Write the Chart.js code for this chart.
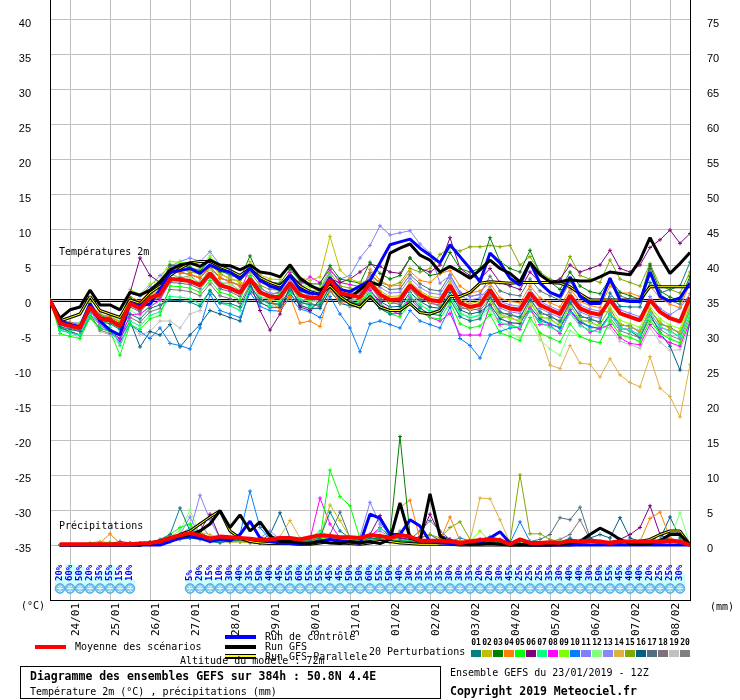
<!DOCTYPE html>
<html>
<head>
<meta charset="utf-8">
<title>Diagramme des ensembles GEFS</title>
<script src="https://cdn.jsdelivr.net/npm/chart.js@4.4.1/dist/chart.umd.min.js"></script>
<style>
  html, body { margin: 0; padding: 0; background: #fff; }
  canvas { display: block; }
</style>
</head>
<body>
<canvas id="gefs" width="740" height="700"></canvas>
<script>
// --- time axis: 65 steps of 6h from 23/01 12Z (index 0) to +384h (index 64) ---
const dayTickIdx = [2, 6, 10, 14, 18, 22, 26, 30, 34, 38, 42, 46, 50, 54, 58, 62];
const dateLabels = ['24/01', '25/01', '26/01', '27/01', '28/01', '29/01', '30/01', '31/01',
                    '01/02', '02/02', '03/02', '04/02', '05/02', '06/02', '07/02', '08/02'];
const tempTicks = [-35, -30, -25, -20, -15, -10, -5, 0, 5, 10, 15, 20, 25, 30, 35, 40];
const precipTicks = [0, 5, 10, 15, 20, 25, 30, 35, 40, 45, 50, 55, 60, 65, 70, 75];

// --- temperatures 2m (°C) ---
const tempMean = [0, -3.3, -3.7, -4.0, -1.0, -2.6, -2.9, -3.7, -0.5, -1.2, 0.3, 0.8, 3.0, 2.9, 2.7, 2.1, 3.8, 2.1, 1.7, 1.0, 3.0, 1.1, 0.5, 0.4, 2.4, 0.7, 0.3, 0.3, 2.9, 1.0, 0.7, 0.4, 2.4, 0.8, 0.0, 0.1, 2.1, 0.8, 0.0, -0.2, 2.1, -0.4, -1.0, -0.7, 1.4, -0.7, -1.2, -1.4, 1.0, -0.7, -1.4, -2.0, 0.6, -1.2, -1.8, -2.1, 0.0, -1.9, -2.4, -2.9, 0.0, -1.7, -2.6, -3.1, 0.4];
const tempGfs = [0, -2.6, -1.4, -1.0, 1.4, -0.7, -0.7, -1.4, 1.1, 0.7, 1.4, 2.6, 4.3, 5.0, 5.3, 4.8, 5.7, 5.0, 4.9, 4.3, 5.0, 4.0, 3.8, 3.3, 5.0, 3.1, 2.1, 1.4, 2.4, 1.0, 0.3, 1.5, 2.6, 2.1, 6.7, 7.4, 8.0, 6.4, 5.7, 4.0, 4.8, 4.0, 3.1, 4.3, 5.7, 4.5, 3.8, 2.6, 5.4, 3.6, 2.6, 2.6, 2.9, 2.7, 2.7, 3.3, 4.0, 3.8, 3.6, 5.7, 8.9, 6.2, 3.8, 5.2, 6.8];
const tempCtrl = [0, -3.0, -3.5, -3.8, -0.5, -3.0, -4.3, -5.0, -0.5, -0.7, -0.6, 1.5, 4.0, 4.2, 4.5, 3.8, 5.0, 4.3, 4.0, 3.0, 4.5, 2.8, 2.0, 1.5, 3.5, 1.5, 1.0, 0.8, 3.2, 1.5, 1.2, 2.0, 2.8, 5.3, 7.9, 8.3, 8.7, 7.4, 6.4, 5.3, 7.9, 6.2, 4.5, 2.6, 6.7, 5.3, 3.1, 2.1, 5.4, 2.4, 1.1, 0.5, 3.3, 0.5, -0.5, -0.5, 3.1, 0.0, -0.2, -0.2, 4.0, 0.5, -0.2, 0.3, 2.4];
const tempPara = [0, -3.0, -2.5, -2.0, 0.5, -1.5, -2.0, -2.5, 0.0, -0.5, 1.0, 2.0, 3.5, 4.5, 5.3, 5.5, 5.5, 4.8, 4.2, 3.5, 4.5, 3.2, 2.5, 2.0, 3.5, 2.0, 1.2, 0.8, 2.0, 0.5, -0.5, -1.0, 0.5, -1.0, -1.5, -1.5, -0.5, -1.8, -2.0, -1.5, 0.5, 0.5, 1.1, 2.4, 2.6, 2.5, 2.4, 2.5, 2.5, 2.5, 2.5, 2.4, 1.9, 0.9, 0.0, 0.0, 0.0, 0.0, 0.0, 0.0, 1.9, 1.9, 1.9, 1.9, 1.9];

const tempP01 = [0, -3.8, -4.2, -4.5, -1.5, -3.1, -3.4, -4.2, -2.0, -2.7, -1.2, -0.7, 0.0, -0.1, -0.3, -0.9, 1.3, -0.4, -0.5, -1.0, 2.0, 0.1, -0.5, -0.6, 1.4, -0.3, -0.7, -0.7, 1.9, 0.0, -0.3, -0.6, 0.4, -1.2, -2.0, -1.9, 0.1, -1.2, -2.0, -2.2, 0.1, -2.4, -3.0, -2.7, 0.4, -1.7, -2.2, -2.4, 0.0, -1.7, -2.4, -3.0, -0.4, -2.2, -2.8, -3.1, 1.0, -0.9, -1.0, -1.0, 2.5, 1.0, 1.5, 2.0, 5.4];
const tempP02 = [0, -3.1, -3.9, -4.2, -0.8, -2.4, -3.1, -3.5, 0.0, -0.7, 0.8, 1.3, 4.5, 4.4, 4.2, 3.6, 5.3, 3.6, 3.2, 2.5, 5.5, 3.6, 3.0, 2.9, 5.0, 3.2, 2.8, 3.3, 9.1, 4.3, 3.0, 2.5, 2.9, 1.3, 0.5, 0.6, 2.6, 1.3, 0.5, 0.3, 2.6, 0.1, -0.5, -0.2, 1.6, -0.5, -1.4, -1.2, 1.2, -0.9, -1.2, -2.2, 0.8, -1.0, -2.0, -1.9, -1.5, -3.4, -3.9, -4.4, -1.5, -3.2, -4.1, -4.6, -1.1];
const tempP03 = [0, -3.0, -3.4, -3.7, -0.7, -2.3, -2.6, -3.4, 0.3, -0.4, 1.1, 1.8, 5.0, 4.9, 4.7, 4.1, 5.8, 4.1, 3.7, 3.0, 6.3, 3.1, 2.5, 2.4, 4.4, 2.7, 2.3, 2.3, 4.9, 3.0, 2.7, 2.4, 5.4, 3.8, 3.0, 3.5, 6.0, 4.5, 3.5, 3.8, 6.8, 4.5, 4.0, 4.5, 8.9, 5.5, 4.5, 4.0, 7.1, 3.8, 2.6, 1.5, 4.0, 2.0, 1.2, 0.9, 3.0, 1.1, 0.6, 0.1, 5.0, 1.3, 0.4, -0.1, 3.4];
const tempP04 = [0, -2.8, -3.2, -3.5, -0.5, -2.1, -2.4, -3.2, 0.5, -0.2, 1.3, 1.8, 4.0, 3.9, 3.7, 3.1, 4.8, 3.1, 2.7, 2.0, 3.0, 1.1, 0.0, -1.5, 0.5, -3.3, -3.0, -3.8, 1.5, -0.5, -0.3, -0.6, 4.4, 2.8, 2.0, 2.1, 4.1, 2.8, 2.5, 3.8, 4.2, 2.0, 1.0, 1.3, 2.4, 0.3, -0.2, -0.4, 2.0, 0.3, -0.4, -1.0, 1.6, -0.2, -0.8, -1.1, 2.0, 1.0, 1.0, 0.5, 2.0, 0.3, -0.6, -1.1, 2.4];
const tempP05 = [0, -4.8, -5.2, -5.5, -2.5, -4.1, -4.4, -7.9, -3.5, -4.2, -2.7, -2.2, 2.0, 1.9, 1.7, 1.1, 2.8, 1.1, 0.7, 0.0, 3.4, 1.5, 0.2, 0.9, 2.0, 1.2, 0.0, 0.6, 3.3, 0.6, 1.1, 0.0, 0.4, -1.2, -2.0, -2.4, -0.4, -1.7, -2.5, -2.7, -0.4, -3.4, -4.0, -3.7, -2.1, -4.7, -5.2, -5.8, -2.5, -4.7, -5.4, -6.0, -3.4, -5.2, -5.8, -6.1, -3.0, -4.9, -5.4, -5.9, -3.0, -4.7, -5.6, -6.1, -2.6];
const tempP06 = [0, -3.5, -3.5, -4.2, -0.8, -2.8, -3.1, -3.5, 1.0, 6.0, 3.5, 2.5, 4.0, 3.9, 3.7, 3.1, 4.8, 3.1, 2.7, 2.0, 2.5, -1.5, -4.3, -2.0, 2.0, -1.0, -1.5, 0.0, 3.0, 2.5, 3.0, 4.0, 5.1, 4.8, 4.0, 3.8, 6.0, 4.5, 4.0, 5.0, 8.9, 4.5, 3.5, 3.0, 4.5, 2.5, 2.0, 1.5, 4.0, 2.5, 2.5, 3.0, 5.0, 4.0, 4.5, 5.0, 7.1, 4.5, 4.0, 5.0, 7.5, 8.6, 10.0, 8.1, 9.5];
const tempP07 = [0, -4.3, -4.7, -5.0, -2.0, -3.6, -3.9, -6.5, -3.0, -3.7, -2.2, -1.7, 0.5, 0.4, 0.2, -0.6, 1.3, -0.4, -0.8, -1.5, 1.6, 0.4, -0.9, -0.3, 1.0, 0.1, -1.1, -0.4, 1.5, 0.4, -0.6, -0.2, 0.9, -0.7, -1.5, -1.4, 0.6, -0.7, -1.5, -1.7, 0.6, -1.9, -2.5, -2.2, -1.1, -3.2, -3.7, -3.9, -1.5, -3.2, -3.9, -4.5, -1.9, -3.7, -4.3, -4.6, -2.0, -3.9, -4.4, -4.9, -2.0, -3.7, -4.6, -5.1, -1.6];
const tempP08 = [0, -3.5, -4.0, -4.5, -1.5, -3.5, -4.5, -5.7, -2.1, -2.0, -1.0, 0.0, 2.6, 3.2, 2.4, 2.4, 3.5, 2.4, 1.4, 1.3, 4.5, 2.6, 2.0, 1.9, 3.9, 2.2, 3.3, 2.5, 4.4, 2.5, 2.2, 1.9, 1.4, -0.5, -1.5, -2.0, 0.5, -1.0, -2.5, -3.0, -1.9, -5.0, -5.0, -5.0, -0.8, -3.5, -3.4, -4.2, -1.2, -3.5, -3.6, -4.8, -1.6, -3.4, -4.6, -4.1, -3.5, -5.4, -6.2, -6.4, -3.5, -5.2, -6.1, -6.6, -3.1];
const tempP09 = [0, -2.6, -3.4, -3.3, -0.3, -2.3, -2.2, -3.0, 1.5, 0.8, 2.3, 2.8, 5.5, 5.4, 5.2, 4.6, 6.3, 4.6, 4.2, 3.5, 4.5, 2.6, 2.0, 1.9, 3.9, 2.2, 1.8, 1.8, 4.4, 2.5, 2.2, 1.9, 2.7, 1.1, -0.3, 0.4, 2.4, 0.5, 0.3, -0.5, 2.4, -0.1, -1.3, -0.4, -0.1, -2.2, -2.7, -2.9, -0.5, -2.2, -2.9, -3.5, -0.9, -2.7, -3.3, -3.6, -1.0, -2.9, -3.4, -3.9, -1.0, -2.7, -3.6, -4.1, -0.6];
const tempP10 = [0, -4.3, -4.7, -5.0, -2.0, -3.6, -4.5, -6.0, -3.5, -4.5, -5.5, -4.0, -6.2, -6.5, -7.0, -4.0, 0.8, -1.5, -2.0, -2.5, 1.0, -0.9, -1.5, -1.6, 0.4, -1.3, -1.7, -2.5, 0.5, -2.0, -4.0, -7.4, -3.4, -3.0, -3.5, -4.0, -1.5, -3.0, -3.5, -4.0, -1.0, -5.5, -6.5, -8.3, -5.0, -4.5, -4.0, -3.9, -1.5, -3.0, -3.4, -4.0, -1.4, -3.0, -3.8, -4.1, -2.0, -3.4, -3.9, -4.4, -1.5, -3.2, -4.1, -4.6, -1.6];
const tempP11 = [0, -3.0, -3.2, -3.3, -0.5, -2.0, -2.5, -3.0, 1.0, 0.5, 2.0, 3.5, 4.8, 5.5, 6.0, 5.5, 6.9, 5.0, 4.5, 3.5, 4.8, 2.9, 1.7, 2.3, 3.6, 2.5, 2.1, 1.5, 4.1, 3.0, 3.5, 6.0, 7.8, 10.6, 9.3, 9.6, 9.9, 8.0, 6.7, 2.4, 3.5, 1.0, 0.5, 0.8, 0.9, -1.2, -1.7, -1.9, 0.5, -1.2, -1.9, -2.5, 0.1, -1.7, -2.3, -2.6, 0.5, -1.4, -1.9, -2.4, 0.5, -1.2, -2.1, -1.2, 0.9];
const tempP12 = [0, -3.6, -4.4, -4.3, -1.7, -3.3, -3.2, -4.4, -1.5, -2.2, -0.7, -0.2, 3.5, 3.4, 3.2, 2.6, 4.3, 2.6, 2.2, 1.5, 2.5, 0.6, 0.0, -0.1, 1.9, 0.2, -0.2, -0.2, 2.4, 0.5, 0.2, -0.1, 1.2, -1.0, -1.2, -1.7, 0.9, -0.4, -1.8, -1.4, 0.3, -2.2, -2.2, -2.5, -1.6, -3.7, -4.7, -5.4, -3.0, -5.7, -7.0, -7.9, -4.4, -5.2, -5.8, -6.1, -2.7, -5.2, -5.1, -6.2, -2.7, -5.0, -5.3, -6.4, -2.3];
const tempP13 = [0, -3.3, -3.5, -3.8, -0.8, -2.6, -2.7, -3.5, -0.3, -1.0, 0.5, 1.0, 4.7, 5.2, 4.4, 4.4, 5.5, 4.4, 3.4, 3.3, 3.5, 1.6, 1.0, 0.9, 2.9, 1.2, 0.8, 0.8, 3.4, 1.5, 1.2, 0.9, 3.4, 1.8, 1.0, 1.1, 3.1, 1.8, 1.0, 0.8, 3.1, 0.6, 0.0, 0.3, 1.9, -0.2, -0.7, -0.9, 1.5, -0.2, -0.9, -1.5, 1.1, -0.7, -1.3, -1.6, -1.7, -4.2, -4.1, -5.2, -1.7, -4.0, -4.3, -5.4, -1.3];
const tempP14 = [0, -3.0, -3.5, -3.8, -0.5, -2.3, -2.7, -3.5, -0.3, -1.0, 0.5, 1.5, 3.7, 4.2, 3.4, 3.4, 4.5, 3.4, 2.4, 2.3, 2.7, 1.4, 0.2, 0.7, 2.1, 1.0, 0.0, 0.6, 2.6, 1.3, 0.4, 0.7, 2.1, 1.1, -0.3, 0.4, 1.8, 1.1, -0.3, 0.1, 1.8, -0.1, -1.3, -0.4, 0.5, -2.0, -2.5, -3.0, -1.0, -5.0, -9.3, -9.8, -6.5, -9.0, -9.2, -11.0, -8.4, -10.7, -11.8, -12.4, -8.1, -12.6, -13.8, -16.7, -9.2];
const tempP15 = [0, -3.0, -3.4, -3.8, -0.8, -2.4, -2.7, -3.5, -0.2, -0.9, 0.6, 1.1, 4.2, 4.7, 3.9, 3.9, 5.0, 3.9, 2.9, 2.8, 4.0, 2.1, 1.5, 1.4, 3.4, 1.7, 1.3, 1.3, 3.9, 2.0, 1.7, 1.4, 3.5, 2.5, 2.0, 2.5, 4.5, 4.0, 4.5, 6.5, 7.5, 7.0, 7.6, 7.6, 7.8, 7.6, 7.8, 5.0, 6.2, 4.0, 3.0, 2.5, 6.2, 3.5, 3.0, 2.5, 5.7, 3.0, 2.5, 2.0, 5.2, 2.0, 1.5, 1.0, 4.0];
const tempP16 = [0, -4.0, -4.5, -5.0, -2.5, -4.0, -4.5, -5.5, -3.0, -6.7, -4.5, -5.0, -3.5, -6.7, -5.0, -3.5, -1.5, -2.0, -2.5, -3.0, 1.5, -0.4, -1.0, -1.1, 0.9, -0.8, -1.2, -1.2, 1.4, -0.5, -0.8, -1.1, 1.4, -0.2, -1.0, -0.9, 1.1, -0.2, -1.0, -1.2, 1.1, -1.4, -2.0, -1.7, -0.6, -2.7, -3.2, -3.4, -1.0, -2.7, -3.4, -4.0, -1.4, -3.2, -3.8, -4.1, -2.0, -3.9, -4.4, -5.4, -2.0, -4.7, -6.6, -10.0, -3.0];
const tempP17 = [0, -3.5, -4.0, -4.3, -1.3, -2.9, -3.2, -4.0, -1.0, -1.7, -0.2, 0.3, 2.5, 2.4, 2.2, 1.6, 3.3, 1.6, 1.2, 0.5, 3.2, 1.9, 0.7, 1.2, 2.6, 1.5, 0.5, 1.1, 3.1, 1.8, 0.9, 1.2, 3.9, 2.3, 1.5, 1.6, 3.6, 2.3, 1.5, 1.3, 3.6, 1.1, 0.5, 0.8, 3.4, 1.3, 0.8, 0.6, 3.0, 1.3, 0.6, 0.0, 2.6, 0.8, 0.2, -0.1, 2.5, 0.6, 0.1, -0.4, 4.5, 0.8, -0.1, -0.6, 2.9];
const tempP18 = [0, -3.8, -4.5, -5.0, -2.0, -4.3, -4.8, -5.0, -2.5, -3.2, -1.7, -1.2, 1.5, 1.4, 1.2, 0.6, 2.3, 0.6, 0.2, -0.5, 2.3, -0.2, -0.2, -0.9, 1.7, -0.6, -0.4, -1.0, 2.2, -0.3, 0.0, -0.9, 1.9, 0.3, -0.5, -0.4, 1.6, 0.3, -0.5, -0.7, 1.6, -0.9, -1.5, -1.2, 0.7, -2.0, -1.9, -2.7, 0.3, -2.0, -2.1, -3.3, -0.1, -2.5, -2.5, -3.4, -1.2, -3.7, -3.6, -4.7, -1.2, -3.5, -3.8, -4.9, -0.8];
const tempP19 = [0, -4.0, -4.5, -5.5, -2.5, -4.5, -5.0, -6.5, -3.5, -5.0, -4.5, -3.0, -3.0, -4.0, -2.0, -1.5, 1.5, -0.5, -0.8, -1.5, 1.2, -0.1, -1.3, -0.8, 0.6, -0.5, -1.5, -0.9, 1.1, -0.2, -1.1, -0.8, 0.6, -0.4, -1.8, -1.1, 0.3, -0.4, -1.8, -1.4, 0.3, -1.6, -2.8, -1.9, -0.9, -2.4, -3.5, -3.1, -1.3, -2.4, -3.7, -3.7, -1.7, -2.9, -4.1, -3.8, -4.0, -5.9, -6.4, -6.9, -4.0, -6.0, -7.2, -7.1, -3.6];
const tempP20 = [0, -3.6, -4.0, -4.3, -1.3, -3.0, -3.3, -4.0, -0.8, -1.5, 0.0, 0.5, 3.8, 3.1, 3.5, 2.3, 4.6, 2.3, 2.5, 1.2, 2.8, 0.3, 0.3, -0.4, 2.2, -0.1, 0.1, -0.5, 2.7, 0.2, 0.5, -0.4, 2.2, 0.0, -0.2, -0.7, 1.9, 0.0, -0.2, -1.0, 1.9, -1.2, -1.2, -1.5, 0.2, -2.5, -2.4, -3.2, -0.2, -2.5, -2.6, -3.8, -0.6, -3.0, -3.0, -3.9, -2.5, -4.4, -4.9, -5.4, -2.5, -4.2, -5.1, -5.6, -2.1];

// --- précipitations (mm / 6h), first step has no accumulation ---
const precMean = [null, 0.1, 0.1, 0.1, 0.1, 0.1, 0.1, 0.1, 0.1, 0.2, 0.3, 0.5, 1.0, 1.4, 1.7, 1.4, 0.9, 1.2, 1.1, 1.0, 0.9, 0.7, 0.8, 1.0, 1.0, 0.8, 1.1, 1.4, 1.3, 1.1, 1.1, 1.0, 1.4, 1.3, 1.0, 1.4, 1.2, 0.6, 0.6, 0.6, 0.5, 0.3, 0.5, 0.7, 0.8, 0.7, 0.1, 0.8, 0.3, 0.3, 0.4, 0.3, 0.6, 0.5, 0.6, 0.5, 0.3, 0.5, 0.5, 0.5, 0.5, 0.5, 0.6, 0.5, 0.0];
const precGfs = [null, 0, 0, 0, 0, 0, 0, 0, 0, 0, 0.2, 0.5, 1.0, 1.2, 1.5, 2.0, 3.0, 4.9, 2.5, 4.3, 2.0, 3.3, 1.3, 0.5, 0.5, 0.3, 0.2, 0.5, 0.3, 0.2, 0.5, 0.3, 0.5, 0.2, 0.8, 6.0, 1.0, 0.5, 7.3, 1.3, 0.4, 0.2, 0.1, 0.1, 0.2, 0.1, 0, 0, 0, 0, 0, 0.1, 0.3, 0.5, 1.5, 2.4, 1.7, 0.8, 0.2, 0.1, 0.2, 0.6, 1.5, 1.5, 0];
const precCtrl = [null, 0, 0, 0, 0, 0, 0, 0, 0, 0, 0, 0, 0.5, 1.0, 1.2, 1.0, 0.5, 0.8, 0.6, 1.5, 3.4, 1.0, 0.5, 0.3, 0.2, 0.1, 0.3, 0.5, 0.8, 0.6, 0.4, 0.2, 4.4, 3.8, 1.5, 1.5, 3.6, 2.7, 0.5, 0.3, 0.2, 0.1, 0.1, 0.2, 1.0, 1.9, 0.3, 0.1, 0, 0, 0, 0, 0, 0, 0, 0, 0, 0, 0, 0, 0, 0, 0, 0, 0];
const precPara = [null, 0, 0, 0, 0, 0, 0, 0, 0, 0, 0.3, 0.5, 0.8, 1.5, 2.0, 3.0, 4.0, 4.9, 2.0, 1.0, 0.5, 0.3, 0.2, 0.2, 0.2, 0.1, 0.1, 0.3, 0.5, 0.3, 0.2, 0.1, 0.3, 0.5, 0.5, 0.3, 0.2, 0.1, 0.1, 0.1, 0.1, 0, 0, 0, 0, 0, 0, 0, 0, 0, 0, 0, 0, 0.1, 0.2, 0.3, 0.2, 0.1, 0.3, 0.5, 0.8, 1.5, 2.0, 2.0, 0];

const precP01 = [null, 0, 0, 0, 0, 0, 0, 0, 0, 0.2, 0.4, 0.8, 1.5, 5.3, 2.0, 1.0, 0.5, 0.3, 0.6, 0.8, 0.4, 0.3, 0.5, 0.8, 1.0, 0.5, 0.6, 1.0, 4.7, 2.0, 1.0, 0.5, 1.0, 0.8, 0.5, 0.6, 0.5, 0.3, 0.2, 0.2, 0.2, 0.1, 0.1, 0.2, 0.3, 0.2, 0, 0.1, 0, 0, 0.1, 0.3, 0.2, 0.1, 0.2, 0.1, 0.2, 0.3, 0.1, 0.2, 0.3, 1.5, 0.5, 0.3, 0];
const precP02 = [null, 0, 0, 0, 0, 0, 0, 0, 0, 0, 0.2, 0.5, 0.8, 1.2, 2.0, 1.5, 0.8, 0.6, 0.4, 0.5, 0.3, 0.2, 0.4, 0.3, 0.5, 0.3, 0.5, 1.0, 5.7, 3.5, 1.0, 0.6, 0.8, 0.5, 0.3, 0.5, 0.4, 0.2, 0.2, 0.1, 0.1, 0.1, 0.2, 0.1, 0.1, 0.2, 0, 0.1, 0.1, 0, 0, 0.1, 0.2, 0.1, 0.1, 0.2, 0.1, 0.2, 0.3, 0.2, 0.5, 0.6, 0.8, 0.4, 0];
const precP03 = [null, 0, 0, 0, 0, 0, 0, 0, 0, 0, 0.1, 0.4, 0.8, 1.0, 1.5, 1.2, 0.8, 0.5, 0.5, 0.6, 0.5, 0.4, 0.4, 0.5, 0.6, 0.4, 0.4, 0.8, 0.6, 0.5, 0.6, 0.5, 0.8, 1.0, 1.5, 15.5, 1.4, 0.5, 0.3, 0.4, 0.3, 0.1, 0.2, 0.8, 0.5, 0.3, 0.1, 0.2, 0.2, 0.1, 0.2, 0.3, 0.8, 0.5, 0.4, 0.3, 0.2, 0.2, 0.3, 0.3, 0.4, 0.5, 0.6, 0.3, 0];
const precP04 = [null, 0, 0, 0, 0, 0.3, 1.6, 0.2, 0.1, 0.1, 0.2, 0.3, 0.6, 1.0, 1.5, 1.2, 0.8, 0.6, 0.5, 0.5, 0.4, 0.3, 0.3, 0.4, 0.5, 0.6, 0.5, 0.8, 0.6, 0.5, 0.6, 0.4, 1.5, 1.0, 1.5, 5.4, 6.4, 0.8, 0.5, 0.6, 4.0, 0.6, 0.4, 0.2, 0.3, 0.1, 0, 0.2, 0.2, 0.2, 0.1, 0.2, 0.3, 0.2, 0.3, 0.4, 0.5, 0.3, 0.5, 0.5, 3.8, 4.7, 1.0, 0.5, 0];
const precP05 = [null, 0, 0, 0.1, 0.3, 0.5, 0.3, 0.2, 0.2, 0.2, 0.3, 0.5, 1.5, 2.5, 3.0, 1.8, 1.0, 0.6, 0.5, 0.6, 0.5, 0.5, 0.6, 0.8, 0.8, 0.5, 0.6, 0.8, 10.7, 6.9, 5.6, 0.9, 0.7, 1.2, 0.8, 0.6, 0.5, 0.3, 0.2, 0.4, 0.3, 0.2, 0.2, 0.3, 0.5, 0.4, 0.1, 0.2, 0.2, 0.1, 0.3, 0.5, 0.6, 0.4, 0.5, 0.3, 0.2, 0.3, 0.5, 0.4, 0.3, 0.5, 0.8, 0.6, 0];
const precP06 = [null, 0, 0, 0, 0, 0.1, 0.2, 0.5, 0.3, 0.2, 0.4, 0.6, 0.8, 1.2, 1.5, 2.0, 4.4, 1.0, 0.8, 0.6, 0.5, 0.5, 0.4, 0.5, 0.6, 0.4, 0.5, 0.6, 0.8, 0.5, 0.5, 0.4, 1.5, 4.2, 1.5, 1.0, 0.8, 1.2, 4.4, 1.5, 0.8, 0.5, 0.3, 0.2, 0.4, 0.2, 0, 0.1, 0.1, 0.2, 0.1, 0.2, 0.3, 0.5, 0.6, 0.4, 0.5, 0.8, 1.5, 2.5, 5.6, 1.5, 0.8, 0.6, 0];
const precP07 = [null, 0, 0, 0, 0, 0, 0, 0.1, 0.1, 0.1, 0.2, 0.5, 1.0, 1.5, 2.5, 1.5, 0.8, 0.6, 0.6, 0.5, 0.4, 0.3, 0.5, 0.6, 0.8, 0.6, 1.0, 2.0, 1.2, 0.8, 0.6, 0.5, 1.0, 2.4, 1.5, 0.8, 0.6, 0.5, 0.3, 0.2, 0.2, 0.2, 0.1, 0.3, 0.4, 0.3, 0.1, 0.2, 0.2, 0.1, 0.2, 0.3, 0.5, 0.4, 0.3, 0.2, 0.3, 0.5, 0.4, 0.3, 0.5, 0.6, 0.4, 0.3, 0];
const precP08 = [null, 0, 0, 0, 0, 0, 0, 0, 0, 0.1, 0.2, 0.4, 0.8, 1.2, 1.5, 1.5, 0.8, 1.0, 0.8, 0.6, 0.6, 0.5, 0.5, 0.6, 0.8, 0.6, 0.8, 6.7, 3.0, 1.0, 0.6, 0.8, 1.2, 2.5, 1.2, 1.0, 0.6, 0.4, 0.3, 0.3, 0.3, 0.4, 0.2, 0.2, 0.3, 0.2, 0.1, 0.2, 0.1, 0.1, 0.2, 0.3, 0.4, 0.5, 0.3, 0.2, 0.3, 0.4, 0.3, 0.2, 0.3, 0.4, 0.5, 0.3, 0];
const precP09 = [null, 0, 0, 0, 0, 0.2, 0.4, 0.2, 0.2, 0.3, 0.4, 0.6, 1.0, 1.2, 1.3, 1.5, 0.8, 0.6, 0.8, 0.6, 0.5, 0.6, 0.6, 0.8, 0.5, 0.6, 0.8, 1.0, 0.8, 0.6, 0.8, 0.6, 1.0, 1.5, 1.0, 0.8, 0.6, 0.6, 0.5, 0.5, 0.4, 0.6, 0.5, 2.0, 0.6, 0.4, 0.1, 0.3, 0.3, 0.3, 0.4, 0.4, 0.6, 0.5, 0.6, 0.4, 0.4, 0.5, 0.4, 0.5, 0.6, 0.6, 0.8, 0.5, 0];
const precP10 = [null, 0, 0, 0, 0, 0, 0, 0, 0, 0, 0.1, 0.3, 0.5, 0.8, 1.0, 1.2, 0.6, 0.5, 0.8, 1.5, 7.7, 2.5, 0.8, 0.6, 0.5, 0.4, 0.6, 0.8, 1.0, 0.6, 0.5, 0.5, 0.6, 0.8, 0.5, 0.6, 0.5, 0.4, 0.4, 0.5, 0.5, 1.0, 0.6, 0.8, 1.2, 0.8, 0.3, 3.3, 0.5, 0.3, 0.5, 0.4, 1.0, 0.4, 0.6, 0.3, 0.2, 0.2, 0.3, 0.4, 0.3, 0.2, 0.4, 0.3, 0];
const precP11 = [null, 0, 0, 0, 0, 0, 0, 0, 0, 0.1, 0.3, 0.5, 0.8, 1.2, 2.0, 7.1, 3.6, 1.0, 0.8, 0.6, 0.5, 0.5, 0.5, 0.6, 0.8, 0.5, 0.5, 0.8, 1.0, 0.6, 0.8, 1.2, 6.1, 3.0, 1.5, 1.0, 0.8, 0.5, 0.3, 0.3, 0.3, 0.2, 0.2, 0.3, 0.4, 0.3, 0.1, 0.2, 0.2, 0.2, 0.3, 0.2, 0.4, 0.3, 0.5, 0.3, 0.3, 0.4, 0.5, 0.6, 0.5, 0.6, 1.0, 0.5, 0];
const precP12 = [null, 0, 0, 0, 0, 0, 0.1, 0.1, 0.1, 0.2, 0.4, 0.6, 1.2, 2.0, 5.0, 1.5, 0.8, 0.6, 0.5, 0.6, 0.5, 0.4, 0.4, 0.5, 0.6, 0.5, 0.6, 0.8, 1.0, 0.6, 0.5, 0.6, 0.8, 1.0, 0.8, 0.6, 0.5, 0.4, 0.4, 0.3, 0.3, 0.3, 0.2, 0.4, 0.5, 0.4, 0.1, 0.3, 0.4, 0.3, 0.4, 0.5, 0.6, 0.4, 0.5, 0.4, 0.5, 0.6, 0.5, 0.4, 0.5, 0.6, 0.8, 4.6, 0];
const precP13 = [null, 0, 0, 0, 0, 0, 0, 0, 0, 0.1, 0.2, 0.5, 1.0, 1.5, 4.0, 1.2, 0.8, 0.6, 0.5, 0.5, 0.6, 1.0, 2.0, 0.8, 0.6, 0.5, 0.6, 0.8, 0.8, 0.6, 0.6, 0.8, 1.5, 2.0, 1.2, 0.8, 0.6, 0.5, 0.4, 0.3, 0.3, 0.2, 0.3, 0.4, 0.5, 0.3, 0.1, 0.2, 0.3, 0.2, 0.3, 0.2, 0.4, 0.6, 0.3, 0.2, 0.3, 0.4, 0.3, 0.5, 0.6, 0.5, 0.7, 0.4, 0];
const precP14 = [null, 0, 0, 0, 0, 0, 0, 0, 0, 0.1, 0.2, 0.4, 0.8, 1.2, 1.5, 1.8, 1.5, 1.0, 0.8, 0.8, 0.6, 0.6, 0.6, 1.2, 3.5, 1.0, 0.8, 0.8, 0.6, 0.5, 0.6, 0.5, 0.8, 1.0, 0.8, 1.0, 0.8, 0.6, 0.5, 0.5, 0.4, 0.5, 0.6, 6.7, 6.6, 3.6, 0.3, 0.5, 0.5, 0.4, 0.5, 0.4, 0.6, 0.4, 0.5, 0.4, 0.3, 0.5, 0.5, 0.4, 0.5, 0.4, 0.6, 0.5, 0];
const precP15 = [null, 0, 0, 0, 0, 0, 0, 0, 0, 0.1, 0.2, 0.4, 0.8, 1.0, 1.2, 1.0, 0.8, 0.6, 0.5, 0.5, 0.5, 0.4, 0.5, 0.6, 0.5, 0.4, 0.5, 0.6, 0.5, 0.4, 0.5, 0.5, 0.6, 0.8, 0.6, 0.8, 0.6, 1.0, 1.5, 1.0, 2.5, 3.3, 0.8, 0.5, 0.6, 0.4, 0.5, 10.0, 1.6, 1.6, 0.8, 0.5, 0.5, 0.4, 0.3, 0.3, 0.3, 0.4, 0.3, 0.3, 0.4, 0.3, 0.5, 0.3, 0];
const precP16 = [null, 0, 0, 0, 0, 0, 0, 0, 0, 0.1, 0.2, 0.4, 0.8, 1.2, 1.0, 0.8, 0.6, 0.5, 0.6, 0.5, 0.5, 0.6, 1.5, 4.6, 1.0, 0.5, 0.6, 0.8, 0.8, 0.6, 0.5, 0.5, 0.6, 0.8, 0.6, 0.5, 0.6, 1.0, 1.5, 0.6, 0.4, 0.3, 0.3, 0.4, 0.5, 0.3, 0.1, 0.2, 0.2, 0.2, 0.3, 0.3, 0.4, 0.6, 1.0, 1.5, 1.0, 3.9, 1.0, 0.5, 0.4, 0.8, 4.0, 1.0, 0];
const precP17 = [null, 0, 0, 0, 0, 0, 0, 0, 0, 0.1, 0.3, 0.5, 1.0, 1.5, 1.2, 1.0, 0.8, 0.6, 0.5, 0.6, 0.5, 0.5, 0.6, 0.8, 0.6, 0.5, 0.6, 0.8, 1.5, 4.7, 1.0, 0.6, 0.8, 1.0, 0.8, 0.6, 0.8, 2.0, 3.5, 2.0, 0.8, 0.5, 0.5, 0.6, 0.5, 0.4, 0.1, 0.3, 0.5, 0.8, 1.5, 3.9, 3.6, 5.4, 1.0, 0.5, 0.5, 0.4, 0.5, 0.6, 0.5, 0.4, 0.6, 0.5, 0];
const precP18 = [null, 0, 0, 0, 0, 0, 0, 0, 0, 0.1, 0.2, 0.4, 0.6, 1.0, 1.5, 1.2, 0.8, 0.6, 0.5, 0.5, 0.4, 0.4, 0.5, 0.6, 0.5, 0.4, 0.5, 0.6, 0.6, 0.5, 0.5, 0.4, 0.6, 0.8, 0.6, 0.5, 0.5, 0.4, 0.4, 0.4, 0.3, 0.3, 0.3, 0.4, 0.4, 0.3, 0.1, 0.2, 0.3, 0.3, 0.5, 0.8, 1.5, 3.6, 0.8, 0.4, 0.3, 0.4, 0.3, 0.4, 0.5, 0.4, 0.6, 0.4, 0];
const precP19 = [null, 0, 0, 0, 0, 0, 0, 0, 0, 0.1, 0.2, 0.3, 0.5, 0.8, 1.0, 0.8, 0.6, 0.5, 0.4, 0.4, 0.4, 0.3, 0.4, 0.5, 0.4, 0.3, 0.4, 0.5, 0.6, 0.4, 0.4, 0.3, 0.5, 0.6, 0.5, 0.4, 0.4, 0.3, 0.3, 0.3, 0.2, 0.2, 0.2, 0.3, 0.3, 0.2, 0.1, 0.2, 0.2, 0.2, 0.2, 0.3, 0.3, 0.3, 0.4, 0.3, 0.2, 0.3, 0.2, 0.3, 0.4, 0.3, 0.4, 0.3, 0];
const precP20 = [null, 0, 0, 0, 0, 0, 0, 0, 0, 0.1, 0.2, 0.5, 0.8, 1.2, 1.5, 3.0, 1.2, 0.8, 0.6, 0.5, 0.5, 0.4, 0.5, 0.6, 0.6, 0.5, 0.6, 0.8, 0.8, 0.6, 0.5, 0.5, 0.8, 1.0, 0.8, 2.0, 0.8, 0.5, 0.4, 0.4, 0.3, 0.3, 0.3, 0.4, 0.4, 0.3, 0.1, 0.2, 0.2, 0.2, 0.3, 0.3, 0.4, 0.4, 0.5, 0.3, 0.3, 0.4, 0.3, 0.4, 0.5, 0.4, 0.5, 0.4, 0];

// --- probabilité de neige (%) per step, null = none shown ---
const snowPct = [null, 20, 60, 50, 20, 35, 55, 15, 10, null, null, null, null, null,
  5, 20, 15, 10, 30, 40, 35, 50, 40, 45, 55, 60, 55, 55, 45, 45, 50, 50, 60, 55, 50, 40, 30, 35, 35, 35,
  30, 30, 35, 20, 20, 30, 45, 25, 25, 25, 35, 30, 40, 40, 30, 50, 55, 45, 40, 40, 20, 25, 25, 30, null];

const pertTemps = [tempP01, tempP02, tempP03, tempP04, tempP05, tempP06, tempP07, tempP08, tempP09, tempP10,
                   tempP11, tempP12, tempP13, tempP14, tempP15, tempP16, tempP17, tempP18, tempP19, tempP20];
const pertPrecs = [precP01, precP02, precP03, precP04, precP05, precP06, precP07, precP08, precP09, precP10,
                   precP11, precP12, precP13, precP14, precP15, precP16, precP17, precP18, precP19, precP20];

// styles
const pertColors = ['#008080', '#c0c000', '#008000', '#ff8000', '#00ff00', '#800080', '#00ff80', '#ff00ff', '#80ff00', '#0080ff',
                    '#8080ff', '#80ff80', '#8888f8', '#e0b040', '#80a800', '#006080', '#507080', '#807078', '#c0c0c0', '#808080'];
const MONO = '"DejaVu Sans Mono", monospace';

const pts = arr => arr.map((v, i) => ({ x: i, y: v }));

function line(values, color, width, axis, marks) {
    return {
        data: pts(values),
        yAxisID: axis,
        borderColor: color,
        backgroundColor: color,
        borderWidth: width,
        borderJoinStyle: 'bevel',
        pointRadius: marks ? 2 : 0,
        pointStyle: 'cross',
        pointBorderWidth: 1,
        pointBorderColor: color,
        tension: 0,
        fill: false
    };
}

// first dataset is painted last (on top)
const datasets = [
    line(tempMean, '#ff0000', 4, 'y'), line(precMean, '#ff0000', 4, 'y2'),
    line(tempGfs, '#000000', 3, 'y'), line(precGfs, '#000000', 3, 'y2'),
    line(tempCtrl, '#0000ff', 3, 'y'), line(precCtrl, '#0000ff', 3, 'y2'),
    line(tempPara, '#ffff00', 1, 'y'), line(precPara, '#ffff00', 1, 'y2'),
    line(tempPara, '#000000', 3, 'y'), line(precPara, '#000000', 3, 'y2')
];
pertTemps.forEach((t, k) => {
    datasets.push(line(t, pertColors[k], 1, 'y', true));
    datasets.push(line(pertPrecs[k], pertColors[k], 1, 'y2', true));
});

// --- 0°C line + snow strip under the curves ---
const stripPlugin = {
    id: 'strip',
    beforeDatasetsDraw(chart) {
        const { ctx, chartArea: a } = chart;
        const xs = chart.scales.x;
        const y0 = Math.round(chart.scales.y.getPixelForValue(0));
        ctx.save();
        ctx.strokeStyle = '#000';
        ctx.lineWidth = 1;
        [y0 - 1, y0 + 1].forEach(yy => {
            ctx.beginPath();
            ctx.moveTo(a.left, yy + 0.5);
            ctx.lineTo(a.right, yy + 0.5);
            ctx.stroke();
        });

        snowPct.forEach((p, i) => {
            if (p == null) return;
            const px = xs.getPixelForValue(i);
            const h = p * 0.3;
            ctx.fillStyle = '#ccffff';
            ctx.fillRect(px - 5, 582 - h, 10, h + 4);
        });
        snowPct.forEach((p, i) => {
            if (p == null) return;
            const px = xs.getPixelForValue(i);
            ctx.beginPath();
            ctx.arc(px, 588.5, 4.8, 0, Math.PI * 2);
            ctx.fillStyle = '#7cc8f0';
            ctx.fill();
            ctx.strokeStyle = '#4aa6dc';
            ctx.stroke();
            ctx.fillStyle = '#e8f8ff';
            ctx.fillRect(px - 3, 588, 6, 1);
            ctx.fillRect(px - 0.5, 585.5, 1, 6);
            ctx.fillRect(px - 2, 586, 1, 1);
            ctx.fillRect(px + 1, 591, 1, 1);
            ctx.fillRect(px + 1, 586, 1, 1);
            ctx.fillRect(px - 2, 591, 1, 1);
        });
        ctx.font = 'bold 9px ' + MONO;
        ctx.fillStyle = '#0000ff';
        ctx.textAlign = 'left';
        ctx.textBaseline = 'middle';
        snowPct.forEach((p, i) => {
            if (p == null) return;
            const px = xs.getPixelForValue(i);
            ctx.save();
            ctx.translate(px, 581);
            ctx.rotate(-Math.PI / 2);
            ctx.fillText(p + '%', 0, 0);
            ctx.restore();
        });
        ctx.restore();
    }
};

// --- dates, legend, captions ---
const textPlugin = {
    id: 'texts',
    afterDraw(chart) {
        const { ctx } = chart;
        const xs = chart.scales.x;
        ctx.save();
        ctx.fillStyle = '#000';
        ctx.font = '10px ' + MONO;
        ctx.textBaseline = 'middle';
        ctx.textAlign = 'left';
        ctx.fillText('Températures 2m', 59, 252);
        ctx.fillText('Précipitations', 59, 526);
        ctx.fillText('(°C)', 21, 606);
        ctx.fillText('(mm)', 710, 607);

        dateLabels.forEach((d, k) => {
            const px = xs.getPixelForValue(dayTickIdx[k]);
            ctx.save();
            ctx.translate(px + 1, 603);
            ctx.rotate(-Math.PI / 2);
            ctx.textAlign = 'right';
            ctx.textBaseline = 'top';
            ctx.font = '11px ' + MONO;
            ctx.fillText(d, 0, 0);
            ctx.restore();
        });

        // legend
        ctx.fillStyle = '#ff0000';
        ctx.fillRect(35, 645, 31, 4);
        ctx.fillStyle = '#0000ff';
        ctx.fillRect(225, 635, 31, 4);
        ctx.fillStyle = '#000';
        ctx.fillRect(225, 645, 31, 4);
        ctx.fillRect(225, 654, 31, 5);
        ctx.fillStyle = '#ffff00';
        ctx.fillRect(225, 655, 31, 2);
        ctx.fillStyle = '#000';
        ctx.fillText('Moyenne des scénarios', 75, 647);
        ctx.fillText('Run de contrôle', 265, 637);
        ctx.fillText('Run GFS', 265, 647);
        ctx.fillText('Run GFS Parallele', 265, 657);
        ctx.fillText('Altitude du modèle : 72m', 180, 661);
        ctx.fillText('20 Perturbations', 369, 652);

        pertColors.forEach((c, k) => {
            const sx = 471 + 11 * k;
            ctx.fillStyle = c;
            ctx.fillRect(sx, 650, 10, 7);
            ctx.fillStyle = '#000';
            ctx.font = 'bold 8px ' + MONO;
            ctx.textAlign = 'center';
            ctx.fillText(String(k + 1).padStart(2, '0'), sx + 5, 643);
        });

        // caption box
        ctx.textAlign = 'left';
        ctx.strokeStyle = '#000';
        ctx.lineWidth = 1;
        ctx.strokeRect(20.5, 666.5, 420, 32);
        ctx.font = 'bold 11.5px ' + MONO;
        ctx.fillText('Diagramme des ensembles GEFS sur 384h : 50.8N 4.4E', 30, 677);
        ctx.font = '10px ' + MONO;
        ctx.fillText('Température 2m (°C) , précipitations (mm)', 30, 692);
        ctx.fillText('Ensemble GEFS du 23/01/2019 - 12Z', 450, 673);
        ctx.font = 'bold 11.5px ' + MONO;
        ctx.fillText('Copyright 2019 Meteociel.fr', 450, 692);
        ctx.restore();
    }
};

const tickFont = { family: '"Liberation Sans", Arial, sans-serif', size: 11 };

new Chart(document.getElementById('gefs').getContext('2d'), {
    type: 'line',
    data: { datasets },
    options: {
        responsive: false,
        animation: false,
        devicePixelRatio: 1,
        events: [],
        layout: { padding: { left: 0, right: 0, top: 0, bottom: 100 }, autoPadding: false },
        plugins: { legend: { display: false }, tooltip: { enabled: false } },
        scales: {
            x: {
                type: 'linear', min: 0, max: 64,
                afterBuildTicks: s => { s.ticks = dayTickIdx.map(v => ({ value: v })); },
                ticks: { display: false },
                grid: { color: '#c0c0c0', drawTicks: false },
                border: { color: '#000' },
                afterFit: s => { s.height = 0; s.paddingLeft = 0; s.paddingRight = 0; }
            },
            y: {
                position: 'left', min: -300 / 7, max: 300 / 7,
                afterBuildTicks: s => { s.ticks = tempTicks.map(v => ({ value: v })); },
                ticks: { font: tickFont, color: '#000', padding: 19, labelOffset: 4 },
                grid: { color: '#c0c0c0', drawTicks: false },
                border: { color: '#000' },
                afterFit: s => { s.width = 50; s.paddingTop = 0; s.paddingBottom = 0; }
            },
            y2: {
                position: 'right', min: 35 - 300 / 7, max: 35 + 300 / 7,
                afterBuildTicks: s => { s.ticks = precipTicks.map(v => ({ value: v })); },
                ticks: { font: tickFont, color: '#000', padding: 17, labelOffset: 4 },
                grid: { display: false, drawTicks: false },
                border: { color: '#000' },
                afterFit: s => { s.width = 50; s.paddingTop = 0; s.paddingBottom = 0; }
            }
        }
    },
    plugins: [stripPlugin, textPlugin]
});
</script>
</body>
</html>
